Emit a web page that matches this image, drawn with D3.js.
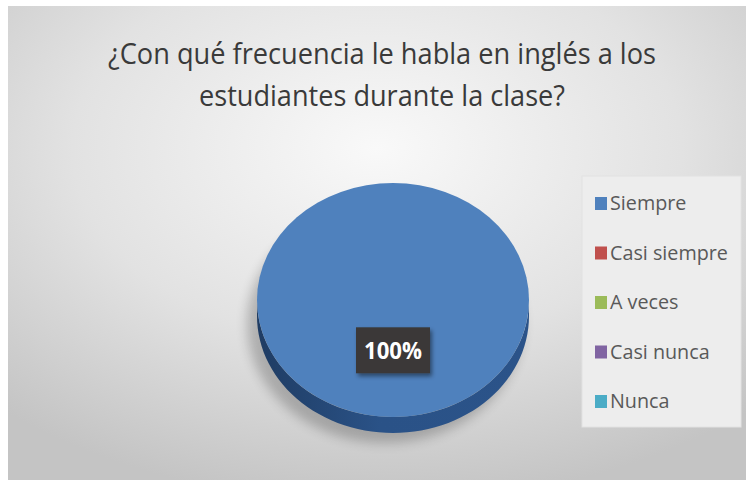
<!DOCTYPE html>
<html>
<head>
<meta charset="utf-8">
<script src="https://cdn.jsdelivr.net/npm/d3@7"></script>
<style>
  html, body { margin: 0; padding: 0; background: #ffffff; }
  svg { display: block; }
</style>
</head>
<body>
<svg id="chart" width="746" height="480"></svg>
<script>
// chart data
var titleLines = ["¿Con qué frecuencia le habla en inglés a los", "estudiantes durante la clase?"];
var categories = ["Siempre", "Casi siempre", "A veces", "Casi nunca", "Nunca"];
var values = [100, 0, 0, 0, 0];
var sliceColors = ["#4f81bd", "#c0504d", "#9bbb59", "#8064a2", "#4bacc6"];
var sideColors = ["#2c5285", "#8a3532", "#6f8a3c", "#5a4675", "#33809a"];

var svg = d3.select("#chart");
var defs = svg.append("defs");

// background gradient of the chart area
var bg = defs.append("radialGradient").attr("id", "bgGrad")
    .attr("cx", "0.5").attr("cy", "0.3").attr("r", "0.75");
bg.append("stop").attr("offset", "0").attr("stop-color", "#f9f9f9");
bg.append("stop").attr("offset", "0.55").attr("stop-color", "#e2e2e2");
bg.append("stop").attr("offset", "1").attr("stop-color", "#c4c4c4");

var side = defs.append("linearGradient").attr("id", "sideGrad")
    .attr("x1", "0").attr("x2", "1").attr("y1", "0").attr("y2", "0");
side.append("stop").attr("offset", "0").attr("stop-color", "#1f3c63");
side.append("stop").attr("offset", "0.45").attr("stop-color", "#2a5287");
side.append("stop").attr("offset", "1").attr("stop-color", "#2b5389");

var shadow = defs.append("filter").attr("id", "pieShadow")
    .attr("x", "-20%").attr("y", "-20%").attr("width", "140%").attr("height", "140%");
shadow.append("feGaussianBlur").attr("stdDeviation", 6);

var lblShadow = defs.append("filter").attr("id", "lblShadow")
    .attr("x", "-30%").attr("y", "-30%").attr("width", "160%").attr("height", "160%");
lblShadow.append("feDropShadow").attr("dx", 2).attr("dy", 3)
    .attr("stdDeviation", 2).attr("flood-color", "#000").attr("flood-opacity", 0.45);

svg.append("rect")
    .attr("x", 8).attr("y", 6).attr("width", 738).attr("height", 474)
    .attr("fill", "url(#bgGrad)");

// title
svg.append("g").selectAll("text")
    .data(titleLines)
    .enter()
    .append("text")
    .attr("x", 382)
    .attr("y", function(d, i) { return 64 + i * 42; })
    .attr("text-anchor", "middle")
    .attr("textLength", function(d, i) { return i == 0 ? 548 : 366; })
    .attr("lengthAdjust", "spacingAndGlyphs")
    .style("font-family", "'Open Sans', Lato, sans-serif")
    .style("font-size", "30px")
    .style("fill", "#3a3a3a")
    .text(function(d) { return d; });

// 3D pie
var cx = 393, cy = 300, rx = 136, ry = 117, depth = 16;
var pie = d3.pie().sort(null).value(function(d) { return d; });
var slices = pie(values);

function ellPoint(a, yOff) {
    return [cx + rx * Math.sin(a), cy + yOff - ry * Math.cos(a)];
}

// soft shadow under pie
svg.append("ellipse")
    .attr("cx", cx - 8).attr("cy", cy + depth + 8)
    .attr("rx", rx + 2).attr("ry", ry + 2)
    .attr("fill", "#000").attr("opacity", 0.22)
    .attr("filter", "url(#pieShadow)");

// side walls (front half only)
svg.append("g").selectAll("path")
    .data(slices)
    .enter()
    .append("path")
    .attr("d", function(d) {
        var a0 = Math.max(d.startAngle, Math.PI / 2);
        var a1 = Math.min(d.endAngle, Math.PI * 1.5);
        if (a1 <= a0) return null;
        var n = 60, top = [], bot = [];
        for (var k = 0; k <= n; k++) {
            var a = a0 + (a1 - a0) * k / n;
            top.push(ellPoint(a, 0));
            bot.push(ellPoint(a, depth));
        }
        return d3.line()(top.concat(bot.reverse())) + "Z";
    })
    .attr("fill", function(d, i) { return i == 0 ? "url(#sideGrad)" : sideColors[i]; });

// top face
var arc = d3.arc().innerRadius(0).outerRadius(rx);
var topG = svg.append("g")
    .attr("transform", "translate(" + cx + "," + cy + ") scale(1," + (ry / rx) + ")");
topG.selectAll("path")
    .data(slices)
    .enter()
    .append("path")
    .attr("d", arc)
    .attr("fill", function(d, i) { return sliceColors[i]; });

// data labels
var labelArc = d3.arc().innerRadius(0).outerRadius(rx * 0.86);
var total = d3.sum(values);
var labels = svg.append("g").selectAll("g")
    .data(slices.filter(function(d) { return d.value > 0; }))
    .enter()
    .append("g")
    .attr("transform", function(d) {
        var c = labelArc.centroid(d);
        return "translate(" + (cx + c[0]) + "," + (cy + c[1] * ry / rx) + ")";
    });
labels.append("rect")
    .attr("x", -37).attr("y", -23).attr("width", 74).attr("height", 46)
    .attr("fill", "#3a3837")
    .attr("filter", "url(#lblShadow)");
labels.append("text")
    .attr("text-anchor", "middle")
    .attr("dy", "0.36em")
    .attr("textLength", 58)
    .attr("lengthAdjust", "spacingAndGlyphs")
    .style("font-family", "'Open Sans', Lato, sans-serif")
    .style("font-weight", "bold")
    .style("font-size", "24px")
    .style("fill", "#ffffff")
    .text(function(d) { return Math.round(d.value / total * 100) + "%"; });

// legend
var legend = svg.append("g");
legend.append("rect")
    .attr("x", 582).attr("y", 176).attr("width", 159).attr("height", 251)
    .attr("fill", "#ededed").attr("stroke", "#e2e2e2").attr("stroke-width", 1);

var items = legend.selectAll("g.item")
    .data(categories)
    .enter()
    .append("g")
    .attr("class", "item")
    .attr("transform", function(d, i) { return "translate(595," + (203 + i * 49.5) + ")"; });
items.append("rect")
    .attr("x", 0).attr("y", -6).attr("width", 12).attr("height", 13)
    .attr("fill", function(d, i) { return sliceColors[i]; });
var legTexts = items.append("text")
    .attr("x", 0)
    .attr("dy", "0.36em")
    .style("font-family", "'Open Sans', Lato, sans-serif")
    .style("font-size", "20px")
    .style("fill", "#595959")
    .text(function(d) { return d; });

// condense legend text so the longest label spans about 118px
var maxLen = d3.max(legTexts.nodes(), function(n) { return n.getComputedTextLength(); });
var sx = 118 / maxLen;
legTexts.attr("transform", "translate(15,0) scale(" + sx + ",1)");
</script>
</body>
</html>
